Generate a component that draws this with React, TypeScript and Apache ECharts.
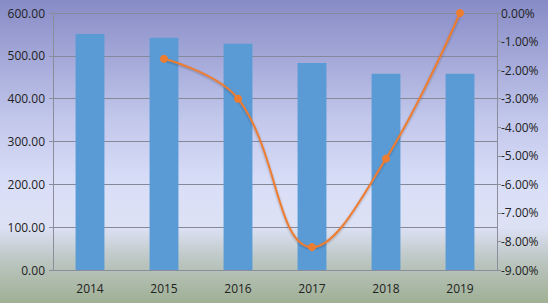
import React, { useEffect, useRef } from "react";
import * as echarts from "echarts";

const years = ["2014", "2015", "2016", "2017", "2018", "2019"];
const barValues = [551, 542, 528, 483, 458, 458];
const lineValues: (number | null)[] = [null, -1.6, -3.0, -8.2, -5.1, 0.0];

export default function App() {
  const ref = useRef<HTMLDivElement>(null);
  useEffect(() => {
    if (!ref.current) return;
    const chart = echarts.init(ref.current, undefined, { renderer: "svg" });
    const font = "'Open Sans', 'Noto Sans', sans-serif";
    chart.setOption({
      animation: false,
      backgroundColor: {
        type: "linear",
        x: 0,
        y: 0,
        x2: 0,
        y2: 1,
        colorStops: [
          { offset: 0, color: "#878bc6" },
          { offset: 0.4, color: "#c3c8ec" },
          { offset: 0.62, color: "#dadff8" },
          { offset: 0.75, color: "#dce1f4" },
          { offset: 0.86, color: "#bcc6c2" },
          { offset: 1, color: "#9fb094" },
        ],
      },
      textStyle: { fontFamily: font },
      grid: { left: 53, right: 51, top: 13, bottom: 33 },
      xAxis: {
        type: "category",
        data: years,
        axisLine: { show: true, lineStyle: { color: "#8a8d9a", width: 1 } },
        axisTick: { show: false },
        axisLabel: { color: "#222", fontSize: 12, margin: 12, fontFamily: font },
      },
      yAxis: [
        {
          type: "value",
          min: 0,
          max: 600,
          interval: 100,
          axisLine: { show: true, lineStyle: { color: "#8a8d9a" } },
          axisTick: { show: true, length: 4, lineStyle: { color: "#8a8d9a" } },
          axisLabel: {
            color: "#222",
            fontSize: 12,
            margin: 8,
            fontFamily: font,
            formatter: (v: number) => v.toFixed(2),
          },
          splitLine: { show: true, lineStyle: { color: "#858999", width: 1 } },
        },
        {
          type: "value",
          min: -9,
          max: 0,
          interval: 1,
          position: "right",
          axisLine: { show: true, lineStyle: { color: "#8a8d9a" } },
          axisTick: { show: true, length: 4, lineStyle: { color: "#8a8d9a" } },
          axisLabel: {
            color: "#222",
            fontSize: 12,
            margin: 4,
            fontFamily: font,
            formatter: (v: number) => v.toFixed(2) + "%",
          },
          splitLine: { show: false },
        },
      ],
      series: [
        {
          type: "bar",
          data: barValues,
          barWidth: "39%",
          itemStyle: { color: "#5b9bd5" },
          yAxisIndex: 0,
        },
        {
          type: "line",
          data: lineValues,
          yAxisIndex: 1,
          smooth: 0.4,
          symbol: "circle",
          symbolSize: 8,
          lineStyle: {
            color: "#ed7d31",
            width: 2,
            shadowColor: "rgba(0,0,0,0.3)",
            shadowBlur: 2,
            shadowOffsetY: 1,
          },
          itemStyle: { color: "#ed7d31" },
        },
      ],
    });
    return () => chart.dispose();
  }, []);
  return (
    <div
      ref={ref}
      style={{ position: "fixed", left: 0, top: 0, width: 548, height: 303 }}
    />
  );
}
